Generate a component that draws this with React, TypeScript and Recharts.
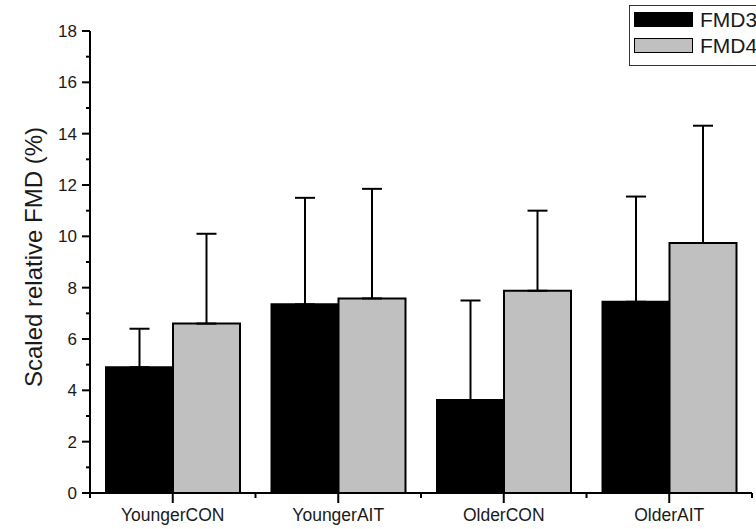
import { Bar, BarChart, ErrorBar, XAxis, YAxis } from "recharts";

document.body.style.margin = "0";

const groups = ["YoungerCON", "YoungerAIT", "OlderCON", "OlderAIT"];
const fmd3 = [4.9, 7.35, 3.62, 7.45];
const fmd3Sd = [1.5, 4.15, 3.88, 4.1];
const fmd4 = [6.6, 7.58, 7.88, 9.74];
const fmd4Sd = [3.5, 4.27, 3.12, 4.57];
const yTicks = [0, 1, 2, 3, 4, 5, 6, 7, 8, 9, 10, 11, 12, 13, 14, 15, 16, 17, 18];

const W = 756;
const H = 529;
const margin = { top: 31, right: 4, left: 0, bottom: 0 };
const yAxisW = 90;
const xAxisH = 36;
const bandW = (W - margin.left - margin.right - yAxisW) / groups.length;

const data = groups.map((g, i) => ({
  group: g,
  fmd3: fmd3[i],
  fmd3Err: [0, fmd3Sd[i]],
  fmd4: fmd4[i],
  fmd4Err: [0, fmd4Sd[i]],
}));

const font = "'Liberation Sans', Arial, sans-serif";
const ink = "#1a1a1a";

function YTick({ x, y, payload }: any) {
  const major = payload.value % 2 === 0;
  return (
    <g>
      <line x1={x - (major ? 8 : 4)} x2={x} y1={y} y2={y} stroke="#000" strokeWidth={2} />
      {major && (
        <text x={x - 13} y={y} dy="0.36em" textAnchor="end" fontSize={17} fontFamily={font} fill={ink}>
          {payload.value}
        </text>
      )}
    </g>
  );
}

function XTick({ x, y, payload, index }: any) {
  const half = bandW / 2;
  return (
    <g>
      <line x1={x} x2={x} y1={y} y2={y + 10} stroke="#000" strokeWidth={2} />
      <line x1={x - half} x2={x - half} y1={y} y2={y + 5} stroke="#000" strokeWidth={2} />
      {index === groups.length - 1 && (
        <line x1={x + half} x2={x + half} y1={y} y2={y + 5} stroke="#000" strokeWidth={2} />
      )}
      <text x={x} y={y + 28} textAnchor="middle" fontSize={17.5} fontFamily={font} fill={ink}>
        {payload.value}
      </text>
    </g>
  );
}

const legendItems = [
  { name: "FMD3", fill: "#000" },
  { name: "FMD4", fill: "#c0c0c0" },
];

export default function App() {
  return (
    <div style={{ position: "relative", width: W, height: H, overflow: "hidden", background: "#fff" }}>
      <BarChart width={W} height={H} data={data} margin={margin} barCategoryGap={16} barGap={0}>
        <XAxis
          dataKey="group"
          height={xAxisH}
          interval={0}
          tickSize={0}
          tickMargin={0}
          tickLine={false}
          tick={<XTick />}
          axisLine={{ stroke: "#000", strokeWidth: 2 }}
        />
        <YAxis
          width={yAxisW}
          domain={[0, 18]}
          ticks={yTicks}
          interval={0}
          allowDataOverflow
          tickSize={0}
          tickMargin={0}
          tickLine={false}
          tick={<YTick />}
          axisLine={{ stroke: "#000", strokeWidth: 2 }}
          label={{
            value: "Scaled relative FMD (%)",
            angle: -90,
            position: "center",
            dx: -12,
            dy: -5,
            style: { fontSize: 24, fontFamily: font, fill: ink },
          }}
        />
        <Bar dataKey="fmd3" fill="#000" stroke="#000" strokeWidth={2} isAnimationActive={false}>
          <ErrorBar dataKey="fmd3Err" direction="y" width={10} stroke="#000" strokeWidth={2} />
        </Bar>
        <Bar dataKey="fmd4" fill="#c0c0c0" stroke="#000" strokeWidth={2} isAnimationActive={false}>
          <ErrorBar dataKey="fmd4Err" direction="y" width={10} stroke="#000" strokeWidth={2} />
        </Bar>
      </BarChart>
      <div
        style={{
          position: "absolute",
          left: 629,
          top: 5,
          width: 160,
          height: 59,
          border: "1px solid #333",
          fontFamily: font,
          fontSize: 21,
          color: ink,
        }}
      >
        {legendItems.map((s, i) => (
          <div key={s.name}>
            <div
              style={{
                position: "absolute",
                left: 4,
                top: 6 + i * 26,
                width: 57,
                height: 13,
                background: s.fill,
                border: "1px solid #000",
              }}
            />
            <div style={{ position: "absolute", left: 70, top: 3 + i * 26, lineHeight: "21px" }}>{s.name}</div>
          </div>
        ))}
      </div>
    </div>
  );
}
